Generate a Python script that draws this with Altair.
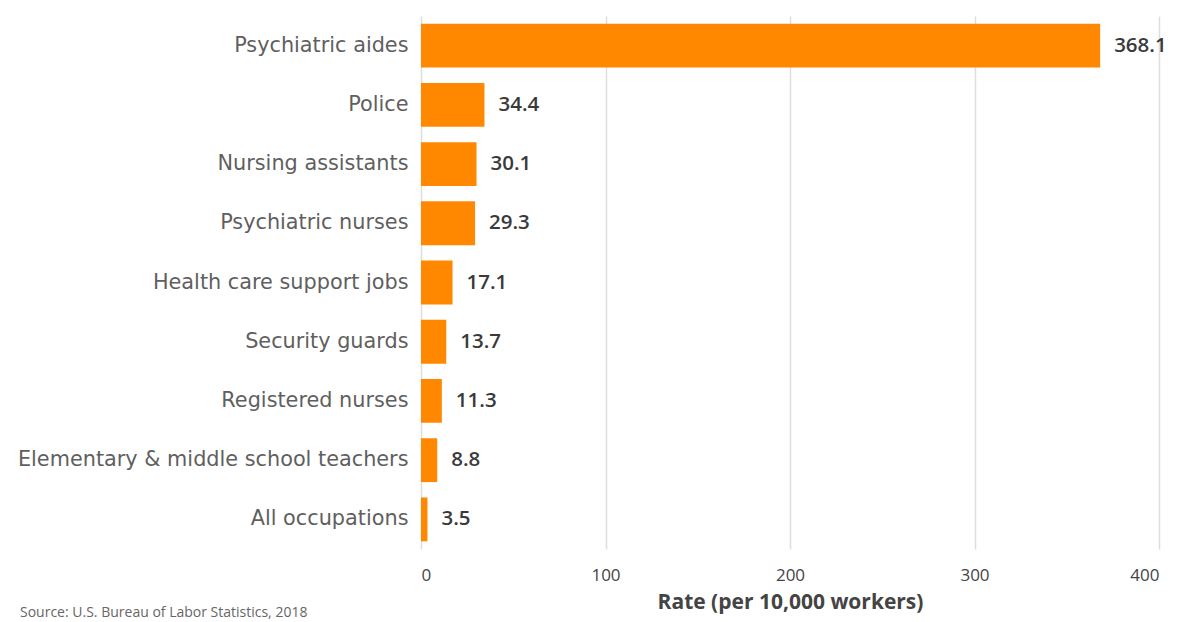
import altair as alt
import pandas as pd

occupations = [
    "Psychiatric aides",
    "Police",
    "Nursing assistants",
    "Psychiatric nurses",
    "Health care support jobs",
    "Security guards",
    "Registered nurses",
    "Elementary & middle school teachers",
    "All occupations",
]
rates = [368.1, 34.4, 30.1, 29.3, 17.1, 13.7, 11.3, 8.8, 3.5]
x_ticks = [0, 100, 200, 300, 400]
source_text = ["Source: U.S. Bureau of Labor Statistics, 2018"]

df = pd.DataFrame({"occupation": occupations, "rate": rates})
df["label"] = df["rate"].map(lambda v: f"{v:.1f}")
src = pd.DataFrame({"s": source_text})

FONT = "DejaVu Sans"
TICKFONT = "Open Sans"

x = alt.X(
    "rate:Q",
    scale=alt.Scale(domain=[0, 400], nice=False),
    axis=alt.Axis(
        values=x_ticks,
        title="Rate (per 10,000 workers)",
        titleFont=TICKFONT,
        titleFontSize=21,
        titleFontWeight="bold",
        titleColor="#444444",
        titlePadding=8,
        labelFont=TICKFONT,
        labelFontSize=17,
        labelColor="#444444",
        labelPadding=18,
        domain=False,
        ticks=False,
        grid=True,
        gridColor="#dddddd",
        gridWidth=1.5,
    ),
)
y = alt.Y(
    "occupation:N",
    sort=occupations,
    scale=alt.Scale(paddingInner=0.26, paddingOuter=0.13),
    axis=alt.Axis(
        title=None,
        labelFont=FONT,
        labelFontSize=20.8,
        labelColor="#5f5f5f",
        labelPadding=13,
        domain=False,
        ticks=False,
        labelLimit=500,
    ),
)

bars = alt.Chart(df).mark_bar(color="#FF8800").encode(x=x, y=y)
labels = alt.Chart(df).mark_text(
    align="left", baseline="middle", dx=14, font=TICKFONT, fontSize=20.5,
    fontWeight=600, color="#3a3a3a"
).encode(x="rate:Q", y=alt.Y("occupation:N", sort=occupations), text="label:N")

source = alt.Chart(src).mark_text(
    align="left", baseline="alphabetic", font=TICKFONT, fontSize=14, color="#666666"
).encode(x=alt.value(-401), y=alt.value(601), text="s:N")

chart = alt.layer(bars, labels, source).properties(
    width=738,
    height=533,
    background="white",
    autosize=alt.AutoSizeParams(type="none"),
    padding={"left": 421, "top": 16, "right": 26, "bottom": 73},
).configure_view(stroke=None)

chart.save("out.html", embed_options={"renderer": "svg", "actions": False})
